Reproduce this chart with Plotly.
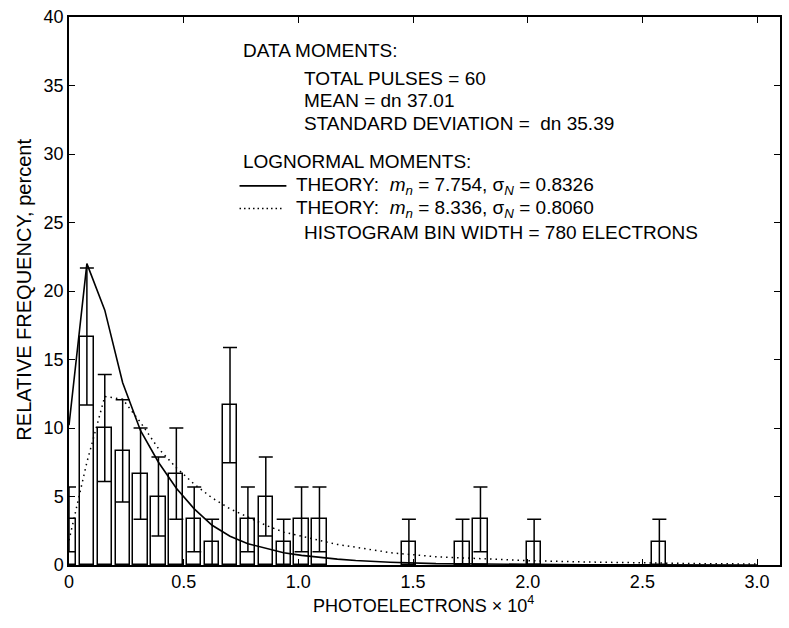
import plotly.graph_objects as go

# ---- data ----
bin_centers = [0.0, 0.078, 0.156, 0.234, 0.312, 0.390, 0.468, 0.546, 0.624, 0.702,
               0.780, 0.858, 0.936, 1.014, 1.092, 1.482, 1.716, 1.794, 2.028, 2.574]
freq_pct = [3.33, 16.67, 10.0, 8.33, 6.67, 5.0, 6.67, 3.33, 1.67, 11.67,
            3.33, 5.0, 1.67, 3.33, 3.33, 1.67, 1.67, 3.33, 1.67, 1.67]
err_pct = [2.36, 5.0, 3.9, 3.73, 3.33, 2.89, 3.33, 2.36, 1.67, 4.2,
           2.36, 2.89, 1.67, 2.36, 2.36, 1.67, 1.67, 2.36, 1.67, 1.67]

theory_x = [0.0, 0.078, 0.156, 0.234, 0.312, 0.390, 0.468, 0.546, 0.624, 0.702,
            0.780, 0.858, 0.936, 1.014, 1.092, 1.17, 1.25, 1.4, 1.6, 1.8,
            2.0, 2.25, 2.5, 2.75, 3.0]
theory_solid = [10.2, 22.0, 18.6, 13.3, 9.8, 7.5, 5.6, 4.1, 2.9, 2.1,
                1.55, 1.2, 0.9, 0.7, 0.55, 0.43, 0.33, 0.2, 0.1, 0.06,
                0.03, 0.02, 0.01, 0.0, 0.0]
theory_dotted = [1.8, 7.5, 12.3, 12.1, 10.4, 8.5, 7.1, 5.9, 4.9, 4.1,
                 3.5, 2.9, 2.4, 2.1, 1.8, 1.5, 1.3, 0.9, 0.6, 0.45,
                 0.32, 0.22, 0.15, 0.1, 0.07]

x_ticks = [0, 0.5, 1.0, 1.5, 2.0, 2.5, 3.0]
x_tick_labels = ["0", "0.5", "1.0", "1.5", "2.0", "2.5", "3.0"]
y_ticks = [0, 5, 10, 15, 20, 25, 30, 35, 40]

FONT = "Liberation Sans, Arial, Helvetica, sans-serif"

# plot area in pixels
L, R, T, B = 69, 782, 10, 565
W, H = 789, 628


def px(x):
    return (x - L) / (R - L)


def py(y):
    return (B - y) / (B - T)


fig = go.Figure()
fig.add_trace(go.Bar(
    x=bin_centers, y=freq_pct, width=0.062,
    marker=dict(color="white", line=dict(color="black", width=1.5)),
    error_y=dict(type="data", array=err_pct, arrayminus=err_pct, symmetric=False,
                 color="black", thickness=1.5, width=7),
    showlegend=False,
))
fig.add_trace(go.Scatter(
    x=theory_x, y=theory_dotted, mode="lines",
    line=dict(color="black", width=1.5, dash="1.5px,4px"), showlegend=False,
))
fig.add_trace(go.Scatter(
    x=theory_x, y=theory_solid, mode="lines",
    line=dict(color="black", width=1.6), showlegend=False,
))

axis_common = dict(
    showgrid=False, zeroline=False, showline=True, linecolor="black", linewidth=1.5,
    mirror="ticks", ticks="inside", ticklen=6, tickwidth=1.3, tickcolor="black",
    tickfont=dict(family=FONT, size=18, color="black"),
)
fig.update_xaxes(range=[0, 3.1], tickvals=x_ticks, ticktext=x_tick_labels, **axis_common)
fig.update_yaxes(range=[0, 40], tickvals=y_ticks, **axis_common)

text_lines = [
    (241, 44, "DATA MOMENTS:"),
    (303, 72, "TOTAL PULSES = 60"),
    (303, 95, "MEAN = dn 37.01"),
    (303, 118, "STANDARD DEVIATION =  dn 35.39"),
    (241, 156, "LOGNORMAL MOMENTS:"),
    (295, 181, "THEORY:  <i>m</i><sub><i>n</i></sub> = 7.754, σ<sub><i>N</i></sub> = 0.8326"),
    (295, 204, "THEORY:  <i>m</i><sub><i>n</i></sub> = 8.336, σ<sub><i>N</i></sub> = 0.8060"),
    (303, 228, "HISTOGRAM BIN WIDTH = 780 ELECTRONS"),
]
annotations = []
for x, y, t in text_lines:
    annotations.append(dict(x=px(x), y=py(y), xref="paper", yref="paper", text=t,
                            showarrow=False, xanchor="left", yanchor="middle",
                            font=dict(family=FONT, size=19, color="black")))
annotations.append(dict(x=px(23), y=py(286), xref="paper", yref="paper",
                        text="RELATIVE FREQUENCY, percent", textangle=-90,
                        showarrow=False, xanchor="center", yanchor="middle",
                        font=dict(family=FONT, size=20, color="black")))
annotations.append(dict(x=px(312), y=py(605), xref="paper", yref="paper",
                        text="PHOTOELECTRONS × 10<sup>4</sup>",
                        showarrow=False, xanchor="left", yanchor="middle",
                        font=dict(family=FONT, size=18, color="black")))

shapes = [
    dict(type="line", xref="paper", yref="paper", x0=px(240), x1=px(287), y0=py(181), y1=py(181),
         line=dict(color="black", width=1.6)),
    dict(type="line", xref="paper", yref="paper", x0=px(240), x1=px(285), y0=py(204), y1=py(204),
         line=dict(color="black", width=1.5, dash="1.5px,3px")),
]

fig.update_layout(
    width=W, height=H, autosize=False,
    margin=dict(l=L, r=W - R, t=T, b=H - B, pad=0),
    paper_bgcolor="white", plot_bgcolor="white",
    font=dict(family=FONT, color="black"),
    annotations=annotations, shapes=shapes, showlegend=False,
    bargap=0,
)

fig.write_html("out.html")
